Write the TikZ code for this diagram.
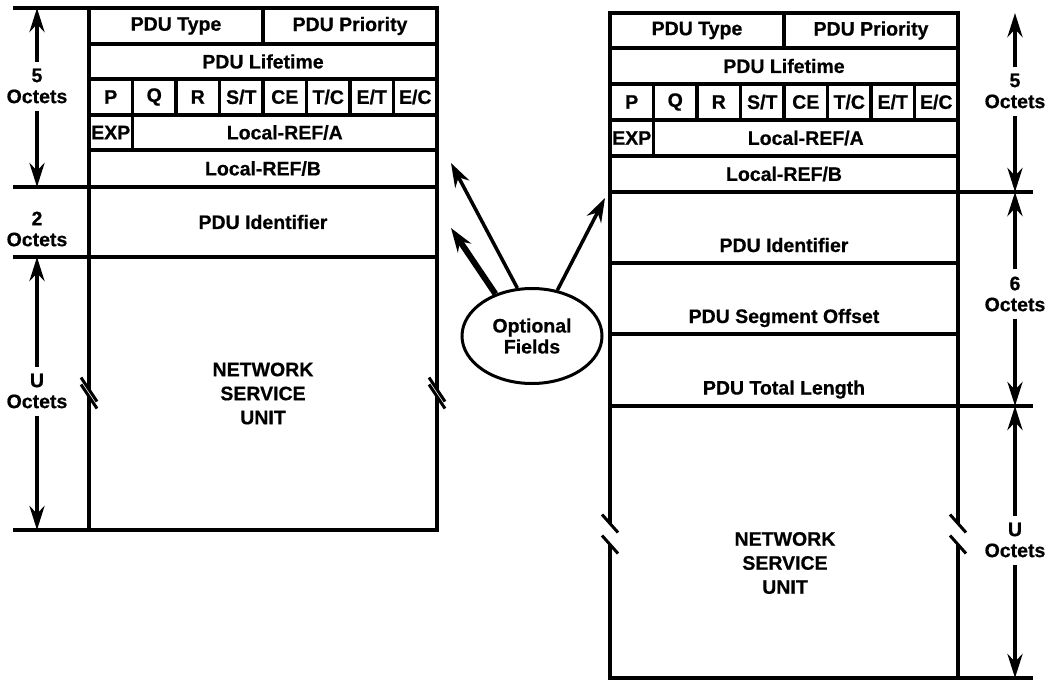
\documentclass[tikz,border=0pt]{standalone}
\usepackage{fontspec}
\setmainfont{Liberation Sans}[BoldFeatures={FakeBold=0.6}]
\usetikzlibrary{arrows.meta,shapes.geometric}

\tikzstyle{cell}=[draw,line width=3.5pt,inner sep=0pt,outer sep=0pt]
\tikzstyle{lowcell}=[cell,minimum width=348pt,text height=54pt,text depth=5pt]
\tikzstyle{nsu}=[align=center,font=\bfseries\fontsize{19.5}{24}\selectfont]
\tikzstyle{octets}=[align=center,inner sep=7pt]
\tikzstyle{span}=[line width=4.5pt,-{Stealth[length=24pt,width=15pt]}]
\tikzstyle{optarrow}=[line width=3.5pt,-{Stealth[length=24pt,width=16pt]}]
\tikzstyle{rule}=[line width=3.5pt]
\tikzstyle{brk}=[line width=3pt]

\begin{document}
\begin{tikzpicture}[x=1pt,y=-1pt,every node/.style={font=\bfseries\fontsize{19.5}{21}\selectfont}]
		\useasboundingbox (0,0) rectangle (1045,681);
		%The header rows of the left PDU
		\foreach \pos/\wid/\hgt/\name/\txt in {	{(176,26)/174/36/typeL/PDU Type},		{(350,26)/174/36/prioL/PDU Priority},
												{(263,61.5)/348/35/lifeL/PDU Lifetime},
												{(110.75,132.5)/43.5/35/expL/EXP},	{(284.75,132.5)/304.5/35/refAL/{Local-REF/A}},
												{(263,168.5)/348/37/refBL/{Local-REF/B}},
												{(263,222)/348/70/idL/PDU Identifier}}
			\node[cell,minimum width=\wid pt,minimum height=\hgt pt] (\name) at \pos {\txt};
		\foreach \flag [count=\i from 0] in {P,Q,R,{S/T},CE,{T/C},{E/T},{E/C}}
			\node[cell,minimum width=43.5pt,minimum height=36pt] (flagL\i) at (110.75+43.5*\i,97) {\flag};
		\node[cell,nsu,minimum width=348pt,minimum height=273pt] (nsuL) at (263,393.5) {NETWORK\\SERVICE\\UNIT};
		%The header rows of the right PDU
		\foreach \pos/\wid/\hgt/\name/\txt in {	{(697,30.5)/174/35/typeR/PDU Type},		{(871,30.5)/174/35/prioR/PDU Priority},
												{(784,66)/348/36/lifeR/PDU Lifetime},
												{(631.75,138)/43.5/36/expR/EXP},	{(805.75,138)/304.5/36/refAR/{Local-REF/A}},
												{(784,174)/348/36/refBR/{Local-REF/B}}}
			\node[cell,minimum width=\wid pt,minimum height=\hgt pt] (\name) at \pos {\txt};
		\foreach \flag [count=\i from 0] in {P,Q,R,{S/T},CE,{T/C},{E/T},{E/C}}
			\node[cell,minimum width=43.5pt,minimum height=36pt] (flagR\i) at (631.75+43.5*\i,102) {\flag};
		\foreach \pos/\hgt/\name/\txt in {{(784,227.5)/71/idR/PDU Identifier},	{(784,298.5)/71/segR/PDU Segment Offset},
											{(784,370)/72/lenR/PDU Total Length}}
			\node[lowcell,minimum height=\hgt pt] (\name) at \pos {\txt};
		\node[cell,minimum width=348pt,minimum height=272pt] (nsuR) at (784,542) {};
		\node[nsu] (nsuRtext) at (785,563) {NETWORK\\SERVICE\\UNIT};
		%Rulers beside the two PDUs
		\foreach \name in {typeL.north west,idL.north west,nsuL.north west,nsuL.south west}
			\draw[rule] (\name) -- ++(-76,0);
		\foreach \name in {typeR.north east,idR.north east,nsuR.north east,nsuR.south east}
			\draw[rule] (\name) -- ++(75,0);
		\foreach \pos/\name/\txt in {	{(37,86)/fiveL/5},		{(37,229)/twoL/2},		{(37,391)/uL/U},
										{(1015,91)/fiveR/5},	{(1015,294)/sixR/6},	{(1015,540)/uR/U}}
			\node[octets] (\name) at \pos {\txt\\Octets};
		\foreach \name/\hi/\lo in {fiveL/typeL.north/refBL.south, uL/nsuL.north/nsuL.south,
									fiveR/typeR.north/refBR.south, sixR/idR.north/lenR.south, uR/nsuR.north/nsuR.south}{
			\draw[span] (\name) -- (\name |- \hi);
			\draw[span] (\name) -- (\name |- \lo);
		}
		%Break marks on the network service units
		\foreach \pos/\dx/\dy/\gap in {{(89,393)/8/12/3.5},	{(437,393)/8/12/3.5},
										{(610,534)/8/9/10.5},	{(958,534)/8/9/10.5}}{
			\fill[white] \pos ++(-\dx,-\dy-\gap) -- ++(2*\dx,2*\dy) -- ++(0,2*\gap) -- ++(-2*\dx,-2*\dy) -- cycle;
			\draw[brk] \pos ++(-\dx,-\dy-\gap) -- ++(2*\dx,2*\dy) \pos ++(-\dx,-\dy+\gap) -- ++(2*\dx,2*\dy);
		}
		%The optional fields
		\node[ellipse,draw,line width=3pt,minimum width=140pt,minimum height=95pt,align=center,inner sep=0pt] (opt) at (532,336) {Optional\\Fields};
		\coordinate (tipA) at (451,163);
		\coordinate (tipB) at (451,228);
		\coordinate (tipC) at (605,198);
		\draw[optarrow] (opt.107) -- (tipA);
		\draw[optarrow,line width=6pt] (opt.131) -- (tipB);
		\draw[optarrow] (opt.61) -- (tipC);
\end{tikzpicture}
\end{document}
